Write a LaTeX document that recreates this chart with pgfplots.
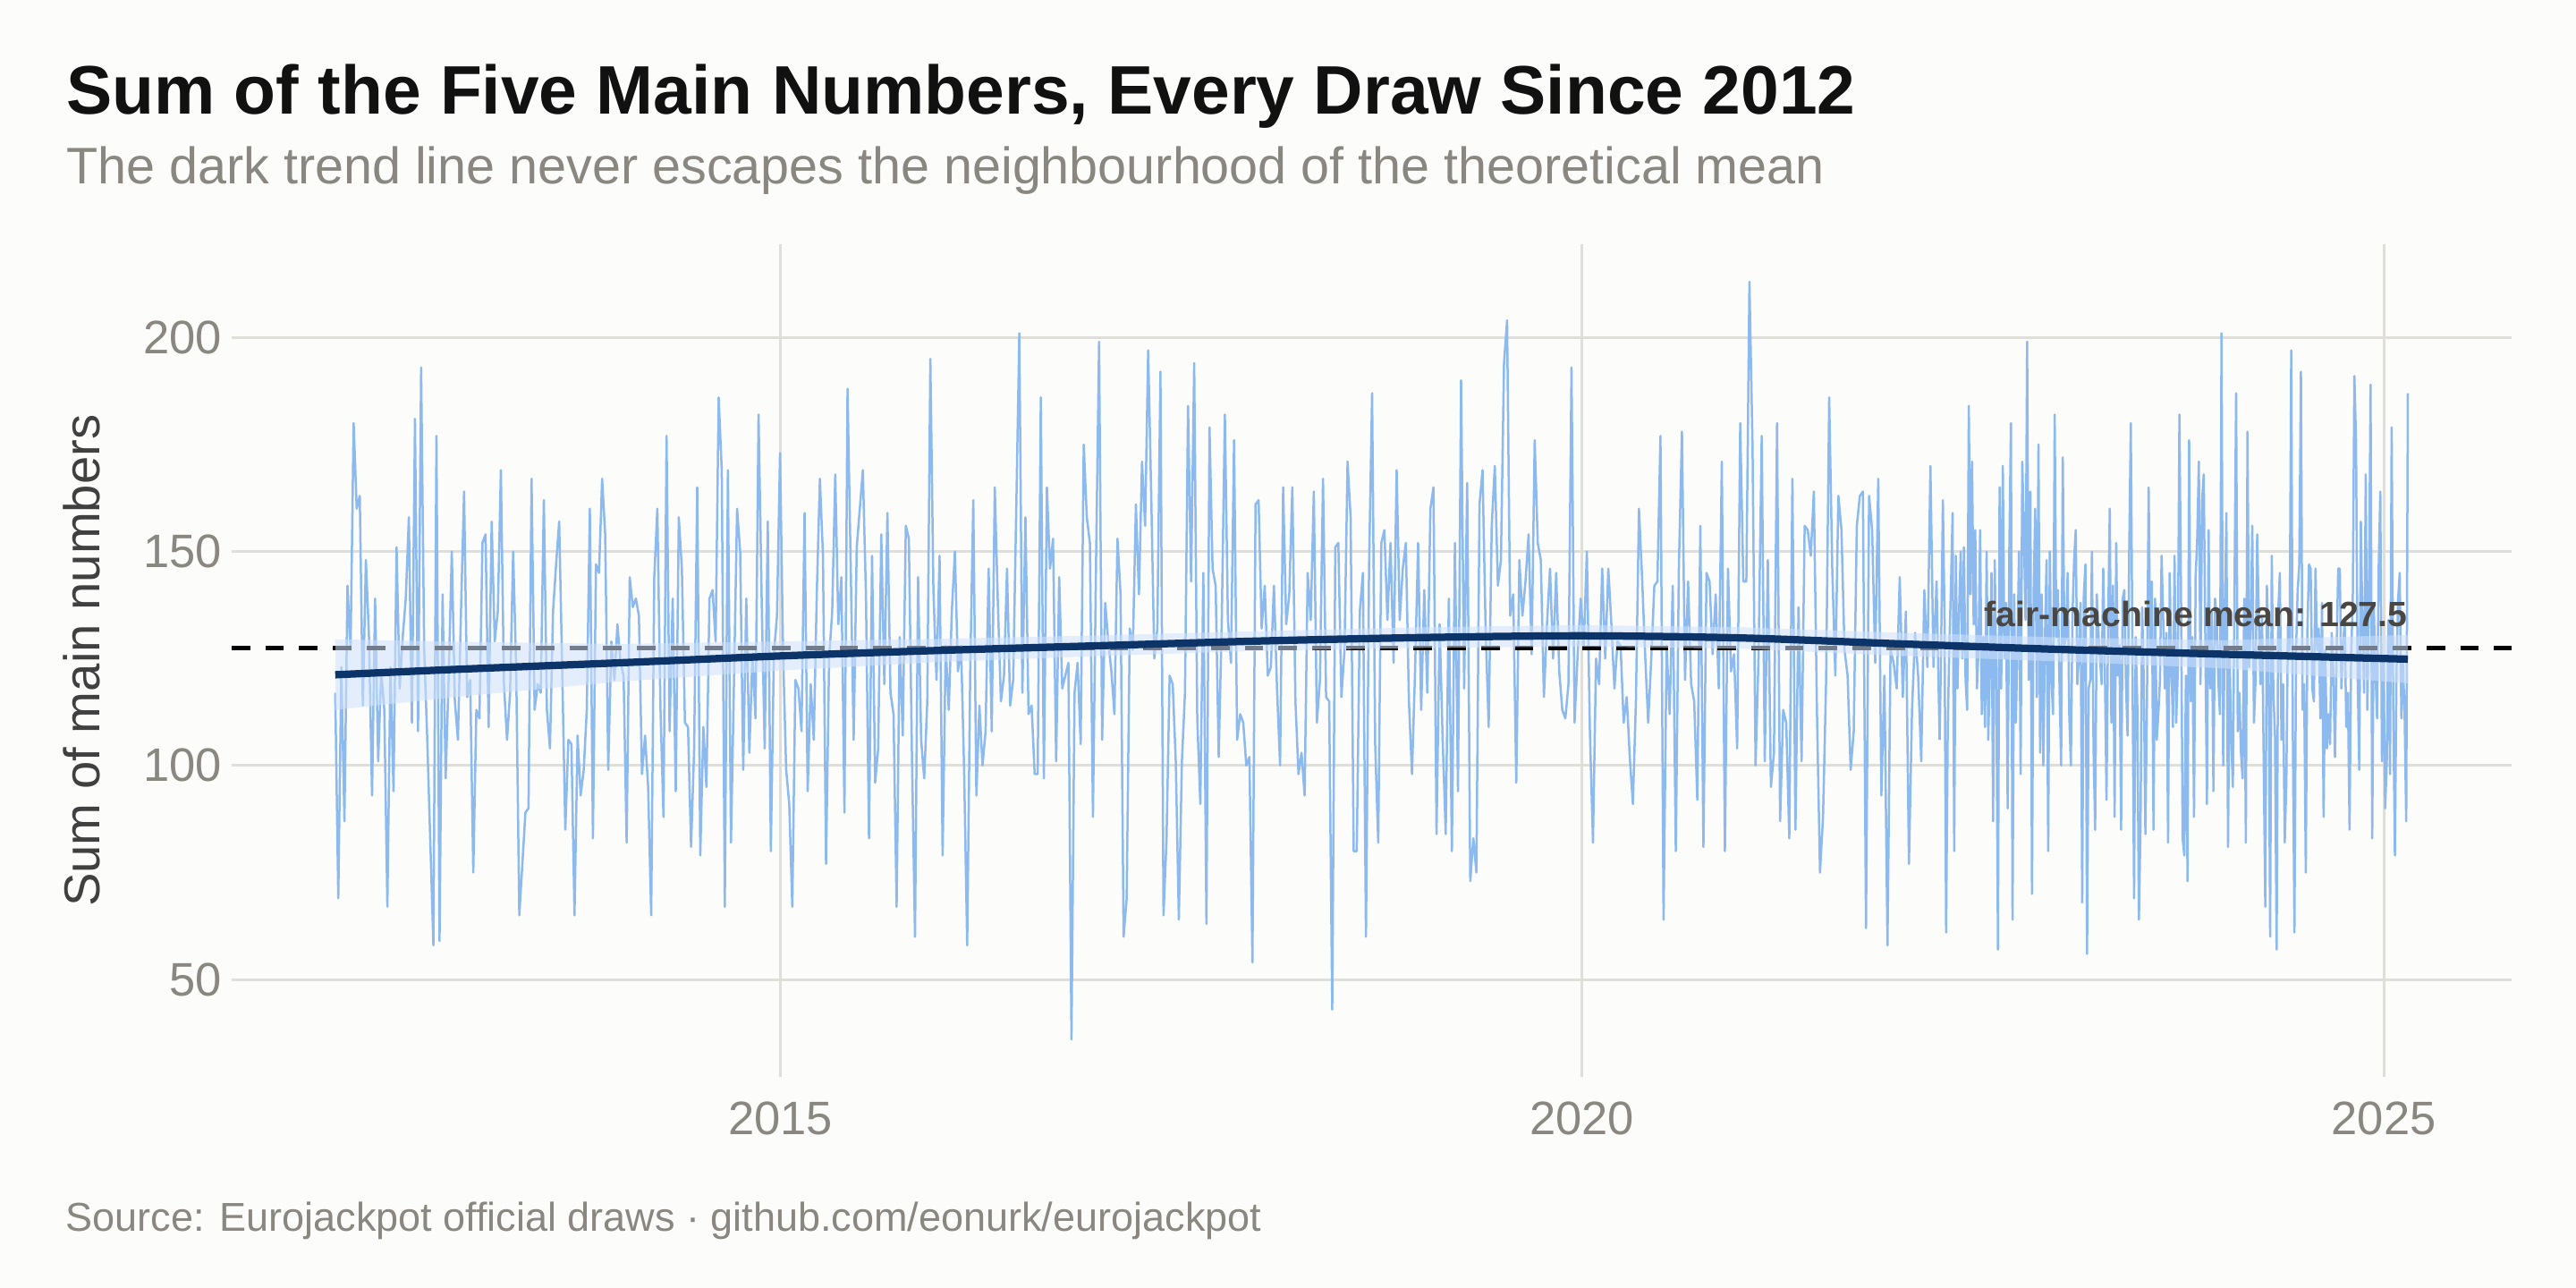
\documentclass[border=0pt]{standalone}
\usepackage{fontspec}
\setmainfont{Liberation Sans}
\usepackage{pgfplots}
\usepackage{pgfplotstable}
\pgfplotsset{compat=1.18}
\definecolor{bg}{HTML}{FCFCFB}
\definecolor{datablue}{HTML}{8DBAEE}
\definecolor{bandblue}{HTML}{D0E2FC}
\definecolor{navy}{HTML}{0C3468}
\definecolor{gridc}{HTML}{E0DED8}
\definecolor{tickgray}{HTML}{8A8680}
\definecolor{labelgray}{HTML}{404040}
\definecolor{meangray}{HTML}{4A4743}
\definecolor{titleblack}{HTML}{111111}

% weekly draws, Mar 2012 - Mar 2022
\pgfplotstableread[row sep=\\]{
y\\
117\\69\\123\\87\\142\\127\\180\\160\\163\\114\\148\\130\\93\\139\\101\\122\\113\\67\\123\\94\\
151\\118\\130\\139\\158\\110\\181\\108\\193\\127\\106\\82\\58\\177\\59\\140\\97\\121\\150\\115\\
106\\136\\164\\116\\120\\75\\113\\111\\152\\154\\109\\157\\129\\136\\169\\119\\106\\117\\150\\122\\
65\\77\\89\\90\\167\\113\\119\\117\\162\\113\\104\\136\\147\\157\\122\\85\\106\\105\\65\\107\\
93\\99\\113\\160\\83\\147\\145\\167\\154\\99\\129\\120\\133\\124\\121\\82\\144\\137\\139\\135\\
98\\107\\95\\65\\144\\160\\114\\88\\177\\108\\139\\94\\158\\
146\\110\\109\\81\\104\\165\\79\\109\\95\\139\\141\\129\\186\\169\\67\\169\\82\\120\\160\\150\\
99\\139\\103\\126\\111\\182\\139\\104\\157\\80\\126\\135\\173\\126\\99\\91\\67\\120\\118\\108\\
159\\94\\119\\106\\141\\167\\149\\77\\125\\136\\168\\133\\144\\89\\188\\148\\106\\151\\160\\169\\
140\\83\\149\\96\\104\\154\\119\\159\\117\\112\\67\\130\\107\\156\\153\\102\\60\\144\\106\\97\\
115\\195\\141\\120\\149\\79\\128\\113\\136\\150\\122\\128\\99\\58\\122\\162\\93\\114\\100\\108\\
146\\108\\165\\138\\115\\121\\146\\114\\120\\160\\201\\117\\158\\
112\\114\\98\\98\\186\\97\\165\\146\\153\\101\\144\\118\\121\\124\\36\\117\\124\\105\\175\\158\\
152\\88\\147\\199\\106\\138\\129\\122\\112\\153\\140\\60\\69\\132\\127\\161\\140\\171\\156\\197\\
163\\125\\132\\192\\65\\83\\121\\119\\101\\64\\101\\117\\184\\143\\194\\111\\91\\145\\63\\179\\
146\\142\\102\\134\\182\\134\\124\\176\\106\\112\\110\\100\\102\\54\\161\\162\\132\\142\\121\\123\\
142\\118\\100\\165\\133\\140\\165\\115\\98\\103\\93\\145\\134\\164\\110\\120\\167\\116\\115\\43\\
151\\152\\116\\127\\171\\158\\80\\80\\136\\145\\60\\146\\187\\105\\
82\\152\\155\\134\\152\\124\\169\\134\\146\\152\\115\\98\\122\\152\\113\\141\\117\\160\\165\\84\\
133\\106\\84\\139\\80\\152\\94\\190\\118\\166\\73\\83\\75\\161\\169\\132\\109\\156\\170\\142\\
148\\194\\204\\135\\140\\96\\148\\135\\143\\154\\126\\176\\152\\148\\116\\133\\146\\125\\145\\122\\
113\\111\\119\\193\\110\\126\\139\\128\\150\\108\\82\\125\\119\\146\\125\\146\\133\\118\\129\\128\\
110\\116\\102\\91\\115\\160\\144\\126\\110\\125\\142\\143\\177\\64\\128\\112\\142\\80\\146\\178\\
120\\143\\119\\115\\92\\156\\81\\145\\143\\126\\140\\118\\171\\
80\\146\\122\\126\\104\\180\\143\\143\\213\\175\\100\\126\\177\\101\\148\\95\\103\\180\\87\\113\\
110\\83\\167\\85\\137\\101\\156\\155\\149\\164\\113\\75\\88\\120\\186\\146\\121\\163\\155\\127\\
121\\99\\108\\156\\163\\164\\62\\163\\155\\124\\167\\93\\121\\58\\127\\124\\118\\144\\116\\136\\
77\\113\\131\\121\\101\\141\\123\\170\\123\\143\\106\\
}\weekly

% twice-weekly draws, Mar 2022 - Feb 2025
\pgfplotstableread[row sep=\\]{
y\\
106\\
130\\162\\135\\61\\109\\128\\142\\159\\80\\149\\118\\136\\150\\125\\151\\120\\113\\184\\140\\171\\
133\\155\\118\\127\\155\\112\\130\\109\\150\\106\\122\\145\\87\\148\\120\\57\\165\\118\\170\\125\\
138\\90\\150\\180\\64\\140\\110\\127\\150\\98\\171\\155\\134\\199\\120\\164\\70\\140\\160\\116\\
175\\103\\140\\100\\130\\148\\80\\150\\120\\112\\182\\130\\141\\118\\100\\
172\\128\\130\\145\\112\\100\\135\\148\\155\\119\\126\\138\\68\\140\\147\\56\\118\\120\\150\\104\\
85\\140\\131\\125\\119\\146\\122\\92\\133\\160\\110\\142\\88\\152\\121\\128\\85\\139\\141\\119\\
107\\150\\180\\126\\69\\130\\114\\64\\86\\137\\120\\84\\116\\165\\127\\143\\85\\139\\106\\112\\
120\\149\\134\\118\\131\\82\\145\\124\\109\\149\\110\\122\\182\\140\\83\\79\\121\\73\\176\\115\\
130\\88\\144\\153\\171\\119\\162\\168\\129\\91\\155\\118\\136\\94\\139\\134\\120\\112\\201\\100\\
133\\159\\81\\126\\106\\95\\141\\187\\108\\117\\103\\97\\139\\82\\178\\123\\132\\156\\110\\120\\
154\\135\\119\\135\\102\\67\\142\\128\\60\\149\\117\\107\\57\\136\\145\\106\\119\\82\\96\\133\\
127\\197\\108\\61\\127\\141\\147\\192\\113\\119\\75\\132\\147\\146\\118\\115\\146\\127\\132\\111\\
138\\88\\127\\104\\112\\105\\131\\122\\102\\126\\146\\146\\118\\128\\134\\109\\117\\85\\126\\138\\
191\\176\\121\\99\\157\\132\\117\\168\\113\\140\\189\\83\\137\\122\\111\\146\\164\\101\\125\\90\\
101\\134\\98\\179\\114\\79\\122\\139\\145\\111\\124\\112\\87\\187\\
}\twiceweekly

\begin{document}
\begin{tikzpicture}
\useasboundingbox (0,0) rectangle (1152pt,576pt);
\fill[bg] (0,0) rectangle (1152pt,576pt);
\begin{axis}[
  at={(103.6pt,94.2pt)}, anchor=south west,
  scale only axis, width=1019.5pt, height=372.7pt,
  xmin=2011.578, xmax=2025.796, ymin=27.15, ymax=221.85,
  axis line style={draw=none},
  major tick length=0pt,
  xtick={2015,2020,2025}, ytick={50,100,150,200},
  grid=major, major grid style={gridc, line width=1.2pt},
  ticklabel style={font=\fontsize{21}{25}\selectfont, text=tickgray},
  xticklabel style={yshift=-7.5pt},
  yticklabel style={xshift=-1pt},
  /pgf/number format/1000 sep={},
  /pgf/number format/assume math mode=true,
  clip=false,
]
\addplot[datablue, line width=1.0pt, line join=round] table[x expr=2012.224+\coordindex*0.019132, y=y]{\weekly};
\addplot[datablue, line width=1.0pt, line join=round] table[x expr=2022.230+\coordindex*0.010104, y=y]{\twiceweekly};
\addplot[black, line width=1.8pt, dash pattern=on 8.3pt off 6.8pt] coordinates {(2011.578,127.5) (2025.796,127.5)};
\addplot[draw=none, fill=bandblue, fill opacity=0.55] coordinates {
 (2012.224,129.5) (2013,128.9) (2014,128.4) (2015,129.0) (2016,129.6) (2017,130.4) (2018,131.4)
 (2019,132.3) (2020,132.8) (2021,132.3) (2022,131.0) (2023,129.9) (2024,129.3) (2025.15,130.5)
 (2025.15,119.2) (2024,122.7) (2023,124.3) (2022,125.6) (2021,127.3) (2020,127.8) (2019,127.5)
 (2018,126.8) (2017,125.6) (2016,124.2) (2015,122.2) (2014,119.6) (2013,116.1) (2012.224,113.0)
} -- cycle;
\addplot[navy, line width=3.3pt, smooth] coordinates {
 (2012.224,121.2) (2013,122.5) (2014,124.0) (2015,125.6) (2016,126.9) (2017,128.0) (2018,129.1)
 (2019,129.9) (2020,130.3) (2021,129.8) (2022,128.4) (2023,127.1) (2024,126.0) (2025.15,124.85)
};
\node[anchor=base east, inner sep=0pt, font=\bfseries\fontsize{15.7}{18}\selectfont, text=meangray] at (axis cs:2025.15,132.5) {fair-machine mean: 127.5};
\end{axis}
\node[anchor=base west, inner sep=0pt, font=\bfseries\fontsize{30.7}{36}\selectfont, text=titleblack] at (29.5pt,525.1pt) {Sum of the Five Main Numbers, Every Draw Since 2012};
\node[anchor=base west, inner sep=0pt, font=\fontsize{23}{27}\selectfont, text=tickgray] at (29.5pt,493.7pt) {The dark trend line never escapes the neighbourhood of the theoretical mean};
\node[anchor=base west, inner sep=0pt, font=\fontsize{18}{22}\selectfont, text=tickgray] at (29.3pt,25.5pt) {Source: Eurojackpot official draws · github.com/eonurk/eurojackpot};
\node[anchor=base, inner sep=0pt, rotate=90, font=\fontsize{22.5}{26}\selectfont, text=labelgray] at (44.6pt,280.5pt) {Sum of main numbers};
\end{tikzpicture}
\end{document}
